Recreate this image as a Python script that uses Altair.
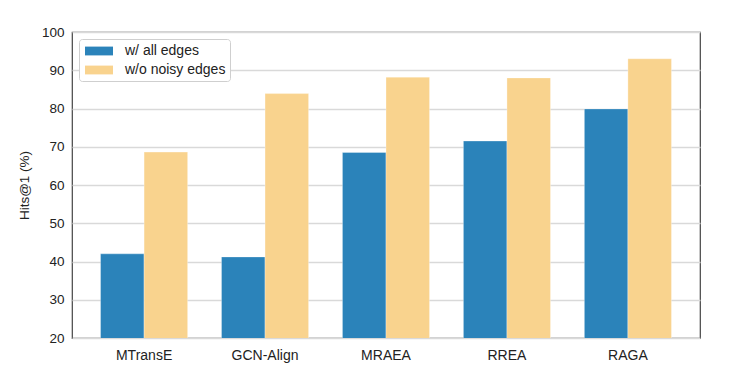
import altair as alt
import pandas as pd

models = ["MTransE", "GCN-Align", "MRAEA", "RREA", "RAGA"]
series = ["w/ all edges", "w/o noisy edges"]
all_edges = [42.0, 41.2, 68.5, 71.5, 79.9]
no_noisy = [68.6, 83.9, 88.2, 88.0, 93.0]
colors = ["#2b83ba", "#f9d38e"]

rows = []
for m, a, b in zip(models, all_edges, no_noisy):
    rows.append({"model": m, "series": series[0], "value": a})
    rows.append({"model": m, "series": series[1], "value": b})
df = pd.DataFrame(rows)

font = "Liberation Sans"

chart = alt.Chart(df).mark_bar(clip=True, stroke="#ffffff", strokeWidth=0.6, strokeOpacity=0.5).encode(
    x=alt.X("model:N", sort=models, title=None,
            scale=alt.Scale(paddingInner=0.28, paddingOuter=0.236),
            axis=alt.Axis(labelAngle=0, labelFont=font, labelFontSize=14,
                          labelColor="#222", labelPadding=10, ticks=False,
                          domain=False, grid=False)),
    xOffset=alt.XOffset("series:N", sort=series, scale=alt.Scale(paddingInner=0, paddingOuter=0)),
    y=alt.Y("value:Q", title="Hits@1 (%)",
            scale=alt.Scale(domain=[20, 100], nice=False, zero=False),
            axis=alt.Axis(values=list(range(20, 101, 10)), labelFont=font, labelFontSize=13.5,
                          labelColor="#222", labelPadding=8, ticks=False, domain=False,
                          grid=True, gridColor="#d9d9d9", gridWidth=1.5,
                          titleFont=font, titleFontSize=13.5, titleFontWeight="normal",
                          titleColor="#222", titlePadding=10)),
    color=alt.Color("series:N", sort=series,
                    scale=alt.Scale(domain=series, range=colors),
                    legend=alt.Legend(title=None, orient="none", legendX=7, legendY=7,
                                      symbolType="M-1.75,-0.55H1.75V0.55H-1.75Z",
                                      symbolSize=256, symbolStrokeWidth=0,
                                      symbolOffset=8,
                                      labelFont=font, labelFontSize=14, labelColor="#222",
                                      labelOffset=18, rowPadding=4,
                                      fillColor="white", strokeColor="#cfcfcf",
                                      cornerRadius=3, padding=4)),
).properties(
    width=628, height=306,
    autosize=alt.AutoSizeParams(type="none"),
    padding={"left": 64, "top": 24, "right": 24, "bottom": 40},
).configure_view(
    stroke="#444", strokeWidth=1.2
)

chart.save("out.html", embed_options={"renderer": "svg", "actions": False})
